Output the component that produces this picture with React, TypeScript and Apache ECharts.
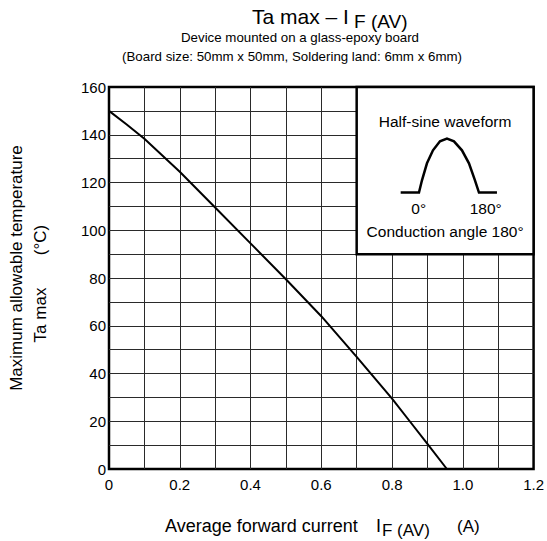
import React, { useEffect, useRef } from "react";
import * as echarts from "echarts";

const currentA = [0, 0.05, 0.1, 0.2, 0.3, 0.4, 0.5, 0.6, 0.7, 0.8, 0.85, 0.9, 0.955];
const tempC = [150, 144.3, 138.3, 124.5, 109.5, 94.5, 79.5, 64, 47, 29.5, 20, 10.5, 0];
const xTicks = [0, 0.2, 0.4, 0.6, 0.8, 1.0, 1.2];
const yTicks = [0, 20, 40, 60, 80, 100, 120, 140, 160];
const insetBox = { x0: 0.7, x1: 1.2, y0: 90, y1: 160 };

const FONT = "'Liberation Sans', Arial, Helvetica, sans-serif";

export default function App() {
  const ref = useRef<HTMLDivElement>(null);
  useEffect(() => {
    if (!ref.current) return;
    const chart = echarts.init(ref.current, undefined, { renderer: "svg" });
    const isTick = (v: number, list: number[]) => list.some((t) => Math.abs(t - v) < 1e-6);
    const option: any = {
      animation: false,
      backgroundColor: "#fff",
      textStyle: { fontFamily: FONT },
      grid: {
        left: 109,
        right: 11,
        top: 87,
        bottom: 72,
        show: true,
        borderColor: "#000",
        borderWidth: 2.5,
        backgroundColor: "transparent",
      },
      xAxis: {
        type: "value",
        min: 0,
        max: 1.2,
        interval: 0.1,
        axisLine: { show: false },
        axisTick: { show: false },
        axisLabel: {
          margin: 8,
          fontSize: 15,
          color: "#000",
          fontFamily: FONT,
          formatter: (v: number) => (isTick(v, xTicks) ? (v === 0 ? "0" : v.toFixed(1)) : ""),
        },
        splitLine: {
          show: true,
          showMinLine: false,
          showMaxLine: false,
          lineStyle: { color: "#2a2a2a", width: 1 },
        },
      },
      yAxis: {
        type: "value",
        min: 0,
        max: 160,
        interval: 10,
        axisLine: { show: false },
        axisTick: { show: false },
        axisLabel: {
          margin: 3,
          fontSize: 15,
          color: "#000",
          fontFamily: FONT,
          formatter: (v: number) => (isTick(v, yTicks) ? String(v) : ""),
        },
        splitLine: {
          show: true,
          showMinLine: false,
          showMaxLine: false,
          lineStyle: { color: "#2a2a2a", width: 1 },
        },
      },
      series: [
        {
          type: "line",
          data: currentA.map((x, i) => [x, tempC[i]]),
          showSymbol: false,
          lineStyle: { color: "#000", width: 2 },
          z: 3,
        },
      ],
    };
    chart.setOption(option);

    const [bx0, by1] = chart.convertToPixel({ gridIndex: 0 }, [insetBox.x0, insetBox.y1]) as number[];
    const [bx1, by0] = chart.convertToPixel({ gridIndex: 0 }, [insetBox.x1, insetBox.y0]) as number[];
    const bw = bx1 - bx0;
    const bh = by0 - by1;

    const txt = (text: string, x: number, y: number, size: number, align = "center", extra: any = {}) => ({
      type: "text",
      x,
      y,
      silent: true,
      ...extra,
      style: {
        text,
        fontSize: size,
        fontFamily: FONT,
        fill: "#000",
        align,
        verticalAlign: "middle",
      },
    });

    const wave = [
      [0, 105.6], [18.3, 105.6], [21.3, 93.3], [26.3, 76.3], [32.3, 63.3], [39.3, 54.3],
      [46.3, 51.6], [53.3, 54.3], [61.3, 63.3], [68.3, 76.3], [74.3, 93.3], [78.3, 105.6], [96.3, 105.6],
    ];

    chart.setOption({
      graphic: [
        txt("Ta max – I", 252, 16, 21, "left"),
        txt("F (AV)", 354, 21, 19, "left"),
        txt("Device mounted on a glass-epoxy board", 300, 37, 13.3),
        txt("(Board size: 50mm x 50mm, Soldering land: 6mm x 6mm)", 292, 56, 13.3),
        txt("Average forward current", 165, 526, 18, "left"),
        txt("I", 376, 526, 18, "left"),
        txt("F (AV)", 382, 530, 17, "left"),
        txt("(A)", 457, 526, 17, "left"),
        txt("Maximum allowable temperature", 16, 268, 17, "center", { rotation: Math.PI / 2 }),
        txt("Ta max", 40, 315, 17, "center", { rotation: Math.PI / 2 }),
        txt("(°C)", 40, 240, 17, "center", { rotation: Math.PI / 2 }),
        {
          type: "group",
          x: bx0,
          y: by1,
          z: 10,
          children: [
            {
              type: "rect",
              shape: { x: 0, y: 0, width: bw, height: bh },
              style: { fill: "#fff", stroke: "#000", lineWidth: 2.5 },
              silent: true,
            },
            txt("Half-sine waveform", bw / 2, 34, 15.5),
            {
              type: "polyline",
              x: 44,
              y: 0,
              shape: { points: wave },
              style: { stroke: "#000", lineWidth: 2.5, fill: null },
              silent: true,
            },
            txt("0°", 62, 121, 15.5),
            txt("180°", 129, 121, 15.5),
            txt("Conduction angle 180°", bw / 2, 144, 15.5),
          ],
        },
      ],
    });

    return () => chart.dispose();
  }, []);
  return (
    <div
      ref={ref}
      style={{ position: "absolute", left: 0, top: 0, width: 547, height: 541 }}
    />
  );
}
